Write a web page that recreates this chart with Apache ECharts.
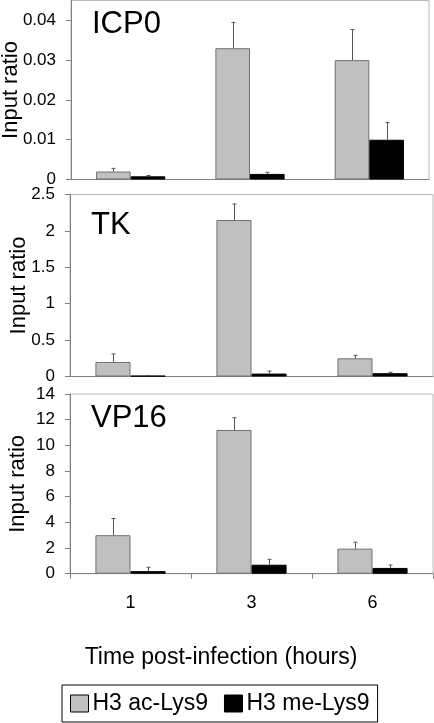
<!DOCTYPE html>
<html>
<head>
<meta charset="utf-8">
<script src="https://cdn.jsdelivr.net/npm/echarts@6/dist/echarts.min.js"></script>
<style>
html,body{margin:0;padding:0;background:#fff;}
#c{width:434px;height:723px;}
</style>
</head>
<body>
<div id="c"></div>
<script>
var categories = ['1', '3', '6'];
var seriesNames = ['H3 ac-Lys9', 'H3 me-Lys9'];
var panelTitles = ['ICP0', 'TK', 'VP16'];

var icp0Ac = [0.002, 0.033, 0.030];
var icp0AcErr = [0.0008, 0.0065, 0.0077];
var icp0Me = [0.0008, 0.0014, 0.010];
var icp0MeErr = [0.0002, 0.0004, 0.0043];

var tkAc = [0.20, 2.15, 0.25];
var tkAcErr = [0.11, 0.22, 0.04];
var tkMe = [0.01, 0.04, 0.045];
var tkMeErr = [0.005, 0.035, 0.013];

var vp16Ac = [3.0, 11.2, 1.95];
var vp16AcErr = [1.3, 0.95, 0.5];
var vp16Me = [0.2, 0.7, 0.45];
var vp16MeErr = [0.3, 0.42, 0.23];

var icp0Ticks = [0, 0.01, 0.02, 0.03, 0.04];
var tkTicks = [0, 0.5, 1, 1.5, 2, 2.5];
var vp16Ticks = [0, 2, 4, 6, 8, 10, 12, 14];

var xTitle = 'Time post-infection (hours)';
var yTitle = 'Input ratio';

var FONT = 'Liberation Sans, Arial, sans-serif';
var panels = [
  {ac: icp0Ac, acErr: icp0AcErr, me: icp0Me, meErr: icp0MeErr, ticks: icp0Ticks, max: 0.045, interval: 0.01,
   nameGap: 49, grid: {left: 71, right: 5, top: 0.5, height: 179}},
  {ac: tkAc, acErr: tkAcErr, me: tkMe, meErr: tkMeErr, ticks: tkTicks, max: 2.5, interval: 0.5,
   nameGap: 40, grid: {left: 70, right: 1, top: 194.5, height: 182}},
  {ac: vp16Ac, acErr: vp16AcErr, me: vp16Me, meErr: vp16MeErr, ticks: vp16Ticks, max: 14, interval: 2,
   nameGap: 41, grid: {left: 70, right: 1, top: 394, height: 179.7}}
];
var titlePos = [[92, 24], [91, 225], [91, 418]];

var GAP = 0.42;
var grids = [], xAxes = [], yAxes = [], series = [], graphics = [];

function errRender(side) {
  return function (params, api) {
    var ci = api.value(0), v = api.value(1), e = api.value(2);
    var base = api.coord([ci, v]);
    var top = api.coord([ci, v + e]);
    var band = api.size([1, 0])[0];
    var bw = band * (1 - GAP) / 2;
    var x = Math.round(base[0] + side * bw / 2) + 0.5;
    var st = {stroke: '#555', lineWidth: 1};
    return {type: 'group', children: [
      {type: 'line', shape: {x1: x, y1: base[1], x2: x, y2: top[1]}, style: st},
      {type: 'line', shape: {x1: x - 2, y1: top[1], x2: x + 2, y2: top[1]}, style: st}
    ]};
  };
}

panels.forEach(function (p, i) {
  var g = p.grid;
  grids.push({left: g.left, right: g.right, top: g.top, height: g.height, show: true,
    borderColor: '#b8b8b8', borderWidth: 1, backgroundColor: '#fff',
    containLabel: false, outerBoundsMode: 'none'});
  var last = i === panels.length - 1;
  xAxes.push({type: 'category', gridIndex: i, data: categories,
    axisLine: {show: true, lineStyle: {color: '#808080', width: 1}},
    axisTick: {show: last, length: 5, lineStyle: {color: '#808080'}},
    axisLabel: {show: last, fontSize: 18, color: '#000', fontFamily: FONT, margin: 20},
    splitLine: {show: false}});
  yAxes.push({type: 'value', gridIndex: i, min: 0, max: p.max, interval: p.interval,
    name: yTitle, nameLocation: 'middle', nameGap: p.nameGap, nameMoveOverlap: false,
    nameTextStyle: {fontSize: 22, color: '#000', fontFamily: FONT},
    axisLine: {show: true, lineStyle: {color: '#808080', width: 1}},
    axisTick: {show: true, length: 5, inside: false, lineStyle: {color: '#808080'}, customValues: p.ticks},
    axisLabel: {fontSize: 17, color: '#000', fontFamily: FONT, margin: 15, customValues: p.ticks},
    splitLine: {show: false}});
  series.push({type: 'bar', name: seriesNames[0], xAxisIndex: i, yAxisIndex: i, data: p.ac,
    barGap: '0%', barCategoryGap: (GAP * 100) + '%',
    itemStyle: {color: '#c0c0c0', borderColor: '#707070', borderWidth: 1}, silent: true});
  series.push({type: 'bar', name: seriesNames[1], xAxisIndex: i, yAxisIndex: i, data: p.me,
    barGap: '0%', barCategoryGap: (GAP * 100) + '%',
    itemStyle: {color: '#000', borderColor: '#000', borderWidth: 1}, silent: true});
  series.push({type: 'custom', xAxisIndex: i, yAxisIndex: i, z: 5, silent: true,
    renderItem: errRender(-1), encode: {x: 0, y: 1},
    data: p.ac.map(function (v, k) { return [k, v, p.acErr[k]]; })});
  series.push({type: 'custom', xAxisIndex: i, yAxisIndex: i, z: 5, silent: true,
    renderItem: errRender(1), encode: {x: 0, y: 1},
    data: p.me.map(function (v, k) { return [k, v, p.meErr[k]]; })});
  graphics.push({type: 'text', x: titlePos[i][0], y: titlePos[i][1], z: 10,
    style: {text: panelTitles[i], font: '31px ' + FONT, fill: '#000', textVerticalAlign: 'middle'}});
});

graphics.push({type: 'text', x: 221, y: 658, z: 10,
  style: {text: xTitle, font: '23px ' + FONT, fill: '#000', textAlign: 'center', textVerticalAlign: 'middle'}});

var chart = echarts.init(document.getElementById('c'), null, {renderer: 'canvas'});
chart.setOption({
  animation: false,
  backgroundColor: '#fff',
  textStyle: {fontFamily: FONT},
  grid: grids,
  xAxis: xAxes,
  yAxis: yAxes,
  series: series,
  graphic: graphics,
  legend: {
    data: seriesNames,
    left: 62, top: 685,
    orient: 'horizontal',
    itemWidth: 18, itemHeight: 17, itemGap: 16,
    padding: [7, 8, 7, 8],
    borderColor: '#000', borderWidth: 1,
    icon: 'rect',
    selectedMode: false,
    itemStyle: {borderColor: '#000', borderWidth: 1},
    textStyle: {fontSize: 23, color: '#000', fontFamily: FONT, padding: [0, 0, 0, -1]}
  }
});
</script>
</body>
</html>
